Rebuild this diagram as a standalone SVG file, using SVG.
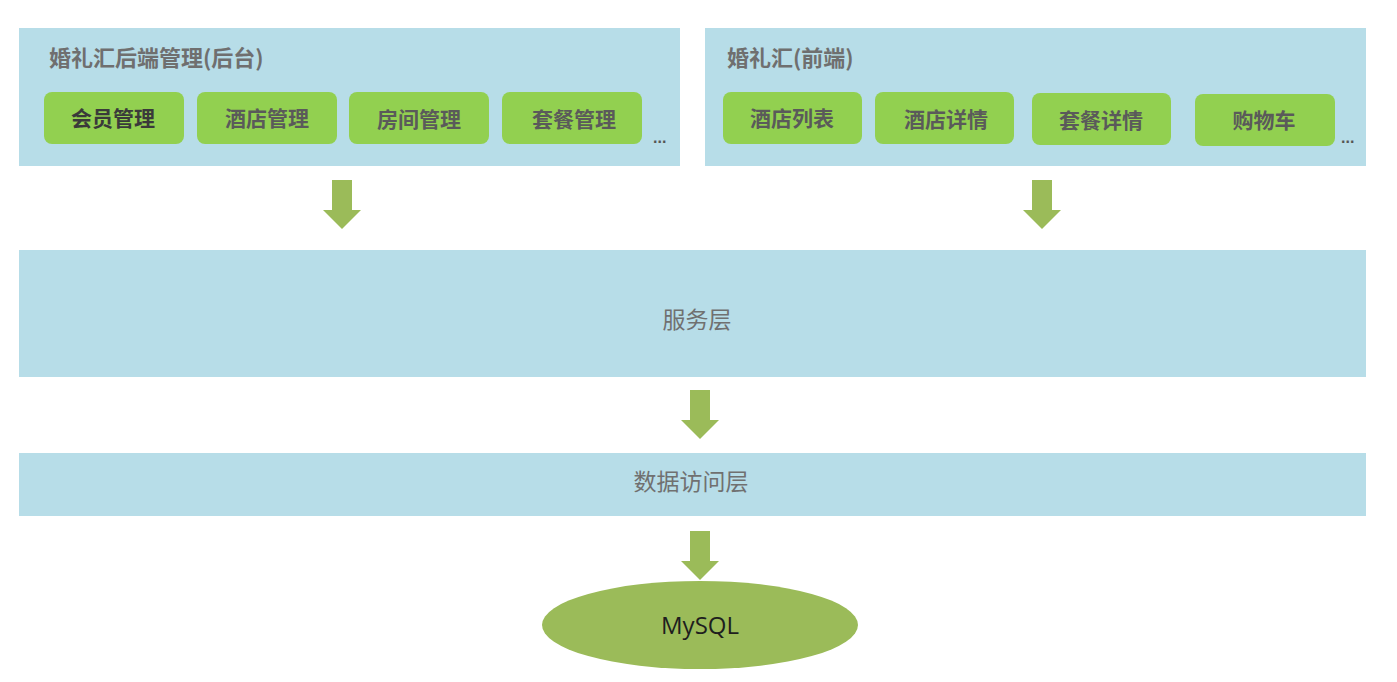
<svg xmlns="http://www.w3.org/2000/svg" width="1397" height="682" viewBox="0 0 1397 682">
<defs>
<style>
.panel{fill:#b7dde8}
.btn{fill:#92d050}
.title{font-family:"Noto Sans CJK SC","Noto Sans",sans-serif;font-size:22px;font-weight:bold;fill:#6f6f6f}
.bt{font-family:"Noto Sans CJK SC","Noto Sans",sans-serif;font-size:21px;font-weight:bold;fill:#5a5a5a;text-anchor:middle}
.layer{font-family:"Noto Sans CJK SC","Noto Sans",sans-serif;font-size:23px;fill:#707070;text-anchor:middle}
.dots{font-family:"Liberation Sans",sans-serif;font-size:16px;font-weight:bold;fill:#555}
.arrow{fill:#9bbb59}
</style>
<path id="arr" d="M-10,0 H10 V30 H19 L0,49 L-19,30 H-10 Z"/>
</defs>
<rect width="1397" height="682" fill="#ffffff"/>
<g id="backend">
<rect class="panel" x="19" y="28" width="661" height="138"/>
<text class="title" x="49" y="66">婚礼汇后端管理(后台)</text>
<g id="b1"><rect class="btn" x="44" y="92" width="140" height="52" rx="8"/><text class="bt" x="113" y="126" style="fill:#3a3a3a">会员管理</text></g>
<g id="b2"><rect class="btn" x="197" y="92" width="140" height="52" rx="8"/><text class="bt" x="267" y="126">酒店管理</text></g>
<g id="b3"><rect class="btn" x="349" y="92" width="140" height="52" rx="8"/><text class="bt" x="419" y="127">房间管理</text></g>
<g id="b4"><rect class="btn" x="502" y="92" width="140" height="52" rx="8"/><text class="bt" x="574" y="127">套餐管理</text></g>
<text class="dots" x="653" y="143">...</text>
</g>
<g id="frontend">
<rect class="panel" x="705" y="28" width="661" height="138"/>
<text class="title" x="727" y="66">婚礼汇(前端)</text>
<g id="f1"><rect class="btn" x="723" y="92" width="139" height="52" rx="8"/><text class="bt" x="792" y="126">酒店列表</text></g>
<g id="f2"><rect class="btn" x="875" y="92" width="139" height="52" rx="8"/><text class="bt" x="946" y="127">酒店详情</text></g>
<g id="f3"><rect class="btn" x="1032" y="93" width="139" height="52" rx="8"/><text class="bt" x="1101" y="128">套餐详情</text></g>
<g id="f4"><rect class="btn" x="1195" y="94" width="140" height="52" rx="8"/><text class="bt" x="1264" y="128">购物车</text></g>
<text class="dots" x="1341" y="143">...</text>
</g>
<g id="service">
<rect class="panel" x="19" y="250" width="1347" height="127"/>
<text class="layer" x="697" y="328">服务层</text>
</g>
<g id="dao">
<rect class="panel" x="19" y="453" width="1347" height="63"/>
<text class="layer" x="691" y="490">数据访问层</text>
</g>
<g id="mysql">
<ellipse cx="700" cy="625" rx="158" ry="44" fill="#9bbb59"/>
<text x="700" y="634" text-anchor="middle" font-family="'Open Sans','Liberation Sans',sans-serif" font-size="24" fill="#1e1e1e">MySQL</text>
</g>
<g id="connectors" class="arrow">
<use href="#arr" x="342" y="180"/>
<use href="#arr" x="1042" y="180"/>
<use href="#arr" x="700" y="390"/>
<use href="#arr" x="700" y="531"/>
</g>
</svg>
